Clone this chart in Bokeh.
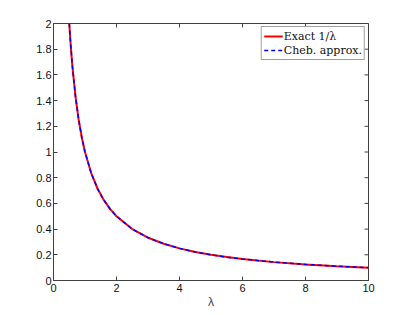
import math
from bokeh.plotting import figure
from bokeh.models import FixedTicker, Range1d, Legend, LegendItem
from bokeh.embed import file_html
from bokeh.resources import INLINE

lam = [0.5, 0.55, 0.6, 0.7, 0.8, 0.9, 1.0, 1.2, 1.4, 1.6, 1.8, 2.0, 2.5, 3.0, 3.5, 4.0, 4.5, 5.0, 5.5, 6.0, 7.0, 8.0, 9.0, 10.0]
exact = [2.0, 1.818, 1.667, 1.429, 1.25, 1.111, 1.0, 0.833, 0.714, 0.625, 0.556, 0.5, 0.4, 0.333, 0.286, 0.25, 0.222, 0.2, 0.182, 0.167, 0.143, 0.125, 0.111, 0.1]
cheb = [2.0, 1.818, 1.667, 1.429, 1.25, 1.111, 1.0, 0.833, 0.714, 0.625, 0.556, 0.5, 0.4, 0.333, 0.286, 0.25, 0.222, 0.2, 0.182, 0.167, 0.143, 0.125, 0.111, 0.1]
xticks = [0, 2, 4, 6, 8, 10]
yticks = [0, 0.2, 0.4, 0.6, 0.8, 1.0, 1.2, 1.4, 1.6, 1.8, 2.0]
x_max = 10
y_max = 2

AX = "#404040"
p = figure(width=399, height=307, output_backend="svg", toolbar_location=None,
           x_range=Range1d(0, x_max), y_range=Range1d(0, y_max),
           min_border_left=53, min_border_right=31, min_border_top=23, min_border_bottom=27)
p.frame_width = 315
p.frame_height = 257
p.grid.visible = False
p.outline_line_color = AX
p.outline_line_width = 1
p.background_fill_color = "white"
p.border_fill_color = "white"

for ax, tk in ((p.xaxis[0], xticks), (p.yaxis[0], yticks)):
    ax.ticker = FixedTicker(ticks=tk)
    ax.minor_tick_line_color = None
    ax.major_tick_in = 4
    ax.major_tick_out = 0
    ax.axis_line_color = AX
    ax.major_tick_line_color = AX
    ax.major_label_text_font = "Liberation Sans"
    ax.major_label_text_font_size = "11px"
    ax.major_label_text_color = "#111111"

p.xaxis[0].major_label_standoff = 3
p.yaxis[0].major_label_standoff = 2
p.xaxis[0].axis_label = "λ"
p.xaxis[0].axis_label_text_font = "Liberation Sans"
p.xaxis[0].axis_label_text_font_style = "normal"
p.xaxis[0].axis_label_text_font_size = "12px"
p.xaxis[0].axis_label_standoff = 0
p.yaxis[0].major_label_overrides = {0: "0", 1: "1", 2: "2"}

# inward ticks on the top and right edges of the box
p.scatter(x=xticks, y=[y_max] * len(xticks), marker="dash", angle=math.pi / 2,
          size=8, line_color=AX, line_width=1)
p.scatter(x=[x_max] * len(yticks), y=yticks, marker="dash",
          size=8, line_color=AX, line_width=1)

r1 = p.line(lam, exact, line_color="red", line_width=2)
r2 = p.line(lam, cheb, line_color="#0000ff", line_width=1.5, line_dash="4 3")

legend = Legend(items=[LegendItem(label="Exact 1/λ", renderers=[r1]),
                       LegendItem(label="Cheb. approx.", renderers=[r2])],
                location="top_right")
legend.label_text_font = "DejaVu Serif"
legend.label_text_font_size = "11px"
legend.label_text_color = "#111111"
legend.border_line_color = AX
legend.border_line_width = 1
legend.background_fill_alpha = 1
legend.margin = 3
legend.padding = 2
legend.spacing = 0
legend.glyph_width = 19
legend.glyph_height = 14
legend.label_standoff = 1
legend.label_height = 14
p.add_layout(legend)

open("out.html", "w").write(file_html(p, INLINE))
